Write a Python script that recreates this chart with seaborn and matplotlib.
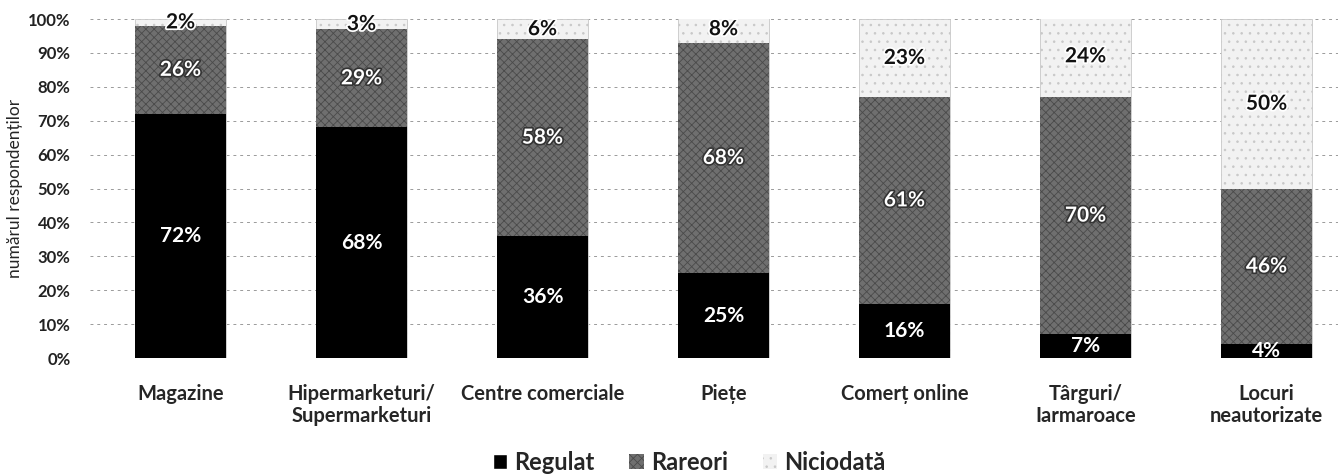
import numpy as np
import pandas as pd
import matplotlib.pyplot as plt
import matplotlib.patheffects as pe
import seaborn as sns

# data
categories = ["Magazine", "Hipermarketuri/\nSupermarketuri", "Centre comerciale", "Piețe",
              "Comerț online", "Târguri/\nIarmaroace", "Locuri\nneautorizate"]
regulat = [72, 68, 36, 25, 16, 7, 4]
rareori = [26, 29, 58, 68, 61, 70, 46]
niciodata = [2, 3, 6, 8, 23, 24, 50]

df = pd.DataFrame({"cat": categories, "Regulat": regulat,
                   "Rareori": rareori, "Niciodată": niciodata})
df["cum1"] = df["Regulat"]
df["cum2"] = df["Regulat"] + df["Rareori"]
df["cum3"] = df["cum2"] + df["Niciodată"]

sns.set_theme(style="white")
plt.rcParams['font.family'] = ['Lato', 'DejaVu Sans']
plt.rcParams['hatch.linewidth'] = 0.6

fig = plt.figure(figsize=(13.38, 4.75), dpi=100)
ax = fig.add_axes([0.0673, 0.2463, 0.9327, 0.7137])

c_reg, c_rar, c_nic = "#000000", "#6f6f6f", "#f2f2f2"

# overlay method: tallest stack first
sns.barplot(data=df, x="cat", y="cum3", color=c_nic, width=0.5, saturation=1,
            edgecolor="#c8c8c8", linewidth=0.6, hatch="..", ax=ax, zorder=2)
sns.barplot(data=df, x="cat", y="cum2", color=c_rar, width=0.5, saturation=1,
            edgecolor="#4a4a4a", linewidth=0, hatch="xxxx", ax=ax, zorder=3)
sns.barplot(data=df, x="cat", y="cum1", color=c_reg, width=0.5, saturation=1,
            linewidth=0, ax=ax, zorder=4)

outline = [pe.withStroke(linewidth=2.4, foreground="#333333")]
for i, row in df.iterrows():
    ax.text(i, row["Regulat"] / 2, f"{row['Regulat']}%", ha="center", va="center",
            color="white", fontsize=15, fontweight="bold", zorder=6)
    ax.text(i, row["cum1"] + row["Rareori"] / 2, f"{row['Rareori']}%", ha="center",
            va="center", color="white", fontsize=15, fontweight="bold", zorder=6,
            path_effects=outline)
    ax.text(i, row["cum2"] + row["Niciodată"] / 2, f"{row['Niciodată']}%", ha="center",
            va="center", color="#111111", fontsize=15, fontweight="bold", zorder=6,
            path_effects=[pe.withStroke(linewidth=2.5, foreground="white")])

ax.set_xlim(-0.5, 6.395)
ax.set_ylim(0, 100)
ax.set_yticks(np.arange(0, 101, 10))
ax.set_yticklabels([f"{v}%" for v in range(0, 101, 10)], fontsize=12,
                   fontweight="bold", color="#222222")
ax.yaxis.grid(True, linestyle=(0, (3, 4)), color="#9a9a9a", linewidth=0.7, zorder=0)
ax.set_axisbelow(True)
for s in ax.spines.values():
    s.set_visible(False)
ax.tick_params(axis="x", labelsize=14.5, pad=19, length=0)
ax.tick_params(axis="y", pad=14, length=0)
for lbl in ax.get_xticklabels():
    lbl.set_fontweight("bold")
    lbl.set_linespacing(1.1)
ax.set_xlabel("")
ax.set_ylabel("numărul respondenților", fontsize=12.5, labelpad=4)

handles = [plt.Rectangle((0, 0), 1, 1, facecolor=c_reg),
           plt.Rectangle((0, 0), 1, 1, facecolor=c_rar, hatch="xxxx", edgecolor="#4a4a4a", linewidth=0),
           plt.Rectangle((0, 0), 1, 1, facecolor=c_nic, hatch="..", edgecolor="#c8c8c8", linewidth=0)]
fig.legend(handles, ["Regulat", "Rareori", "Niciodată"], loc="center",
           bbox_to_anchor=(0.515, 0.026), ncol=3, frameon=False,
           prop={"size": 17, "weight": "bold"}, handlelength=0.6, handleheight=0.6,
           handletextpad=0.3, columnspacing=1.5)

fig.savefig("out.png", dpi=100)
